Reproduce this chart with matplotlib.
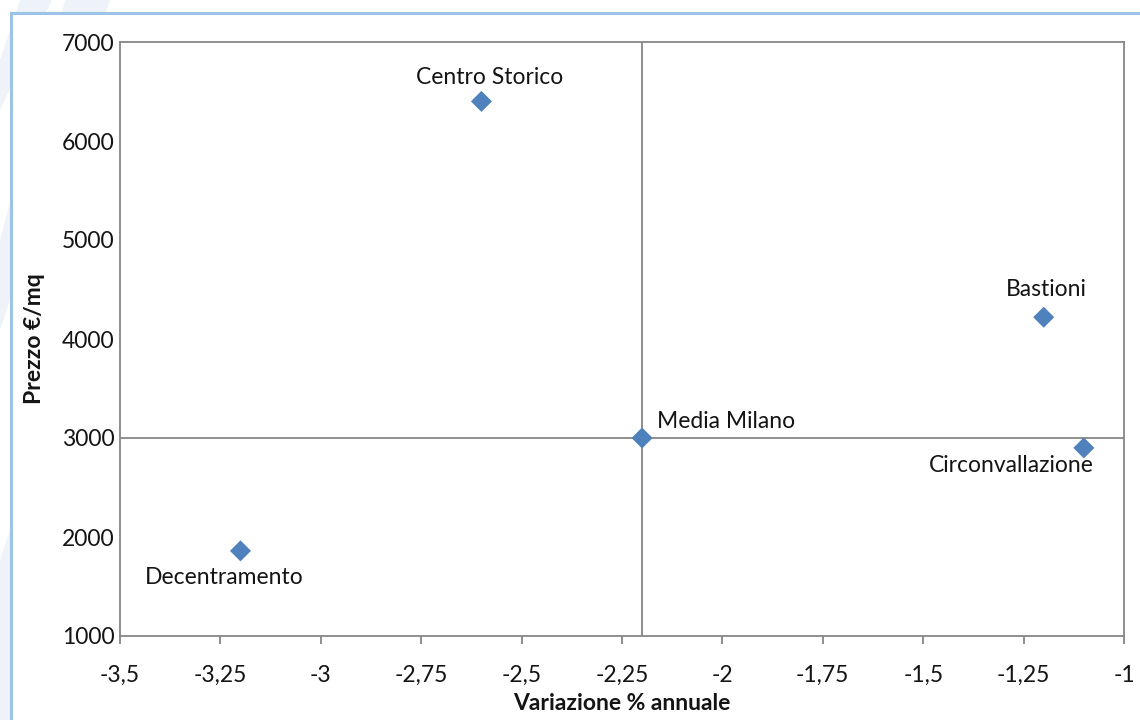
import matplotlib
matplotlib.use("Agg")
import matplotlib.pyplot as plt
from matplotlib.patches import Polygon, Rectangle

plt.rcParams['font.family'] = ['Lato', 'DejaVu Sans']

# Data
zone = ["Centro Storico", "Bastioni", "Media Milano", "Circonvallazione", "Decentramento"]
variazione = [-2.6, -1.2, -2.2, -1.1, -3.2]
prezzo = [6400, 4220, 3000, 2900, 1860]
media_x = -2.2
media_y = 3000
x_ticks = [-3.5, -3.25, -3.0, -2.75, -2.5, -2.25, -2.0, -1.75, -1.5, -1.25, -1.0]
x_tick_labels = ["-3,5", "-3,25", "-3", "-2,75", "-2,5", "-2,25", "-2", "-1,75", "-1,5", "-1,25", "-1"]
y_ticks = [1000, 2000, 3000, 4000, 5000, 6000, 7000]

W, H = 1140, 720
fig = plt.figure(figsize=(W / 100, H / 100), dpi=100)
fig.patch.set_facecolor("white")

# faint background stripes (decoration)
for pts in ([(20, 0), (52, 0), (0, 110), (0, 60)],
            [(65, 0), (110, 0), (0, 330), (0, 240)],
            [(0, 560), (30, 470), (30, 720), (0, 720)]):
    fig.patches.append(Polygon([(x / W, 1 - y / H) for x, y in pts], closed=True,
                               transform=fig.transFigure, facecolor="#eef3fa",
                               edgecolor="none", zorder=0))
# chart-area border
fig.patches.append(Rectangle((11 / W, -0.05), 1.2, 1 - 13 / H + 0.05,
                             transform=fig.transFigure, facecolor="white",
                             edgecolor="#9dc3e6", linewidth=2.2, zorder=0.5))

ax = fig.add_axes([120 / W, 1 - 636 / H, (1124 - 120) / W, (636 - 42) / H])
ax.set_facecolor("white")
ax.set_zorder(1)

ax.set_xlim(-3.5, -1.0)
ax.set_ylim(1000, 7000)

grey = "#868686"
ax.axvline(media_x, color=grey, lw=1.3, zorder=1)
ax.axhline(media_y, color=grey, lw=1.3, zorder=1)

ax.scatter(variazione, prezzo, marker="D", s=115, color="#4f81bd", zorder=3,
           edgecolors="none")

fs = 16.5
offsets = {
    "Centro Storico": ((6, 17), "center", "center"),
    "Bastioni": ((2, 20), "center", "center"),
    "Media Milano": ((11, 12), "left", "center"),
    "Circonvallazione": ((7, -13), "right", "center"),
    "Decentramento": ((-12, -19), "center", "center"),
}
for name, x, y in zip(zone, variazione, prezzo):
    (dx, dy), ha, va = offsets[name]
    ax.annotate(name, (x, y), xytext=(dx, dy), textcoords="offset points",
                ha=ha, va=va, fontsize=fs, color="#141414", zorder=4)

for s in ax.spines.values():
    s.set_color(grey)
    s.set_linewidth(1.3)

ax.set_xticks(x_ticks)
ax.set_xticklabels(x_tick_labels)
ax.set_yticks(y_ticks)
ax.set_yticklabels([str(v) for v in y_ticks])
ax.tick_params(axis="x", direction="out", length=6, width=1.3, color=grey,
               labelsize=fs, labelcolor="#141414", pad=15)
ax.tick_params(axis="y", length=0, labelsize=fs, labelcolor="#141414", pad=4)
ax.tick_params(top=False, right=False)

ax.set_xlabel("Variazione % annuale", fontsize=fs, fontweight="bold",
              color="#141414", labelpad=5)
ax.set_ylabel("Prezzo €/mq", fontsize=fs, fontweight="bold", color="#141414",
              labelpad=12)

fig.savefig("out.png", dpi=100, facecolor="white")
